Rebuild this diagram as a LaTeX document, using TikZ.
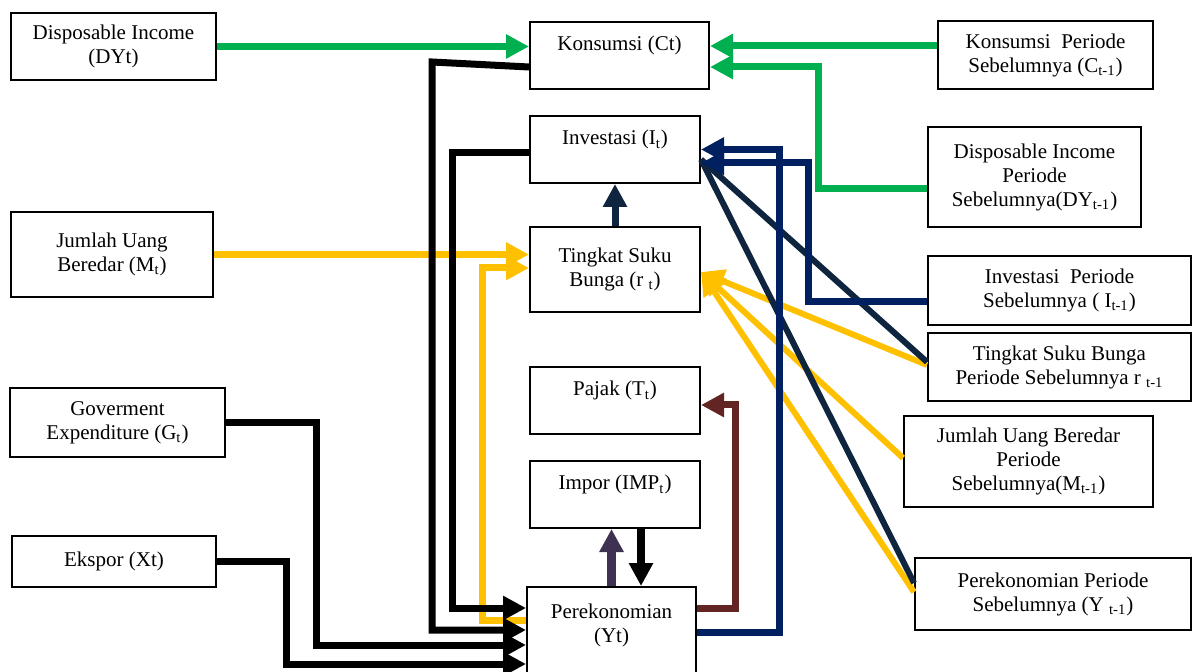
\documentclass[tikz,border=0pt]{standalone}
\usepackage{fontspec}
\setmainfont{Liberation Serif}
\usetikzlibrary{arrows.meta}
\definecolor{kgreen}{RGB}{0,176,80}
\definecolor{kyellow}{RGB}{255,192,0}
\definecolor{knavy}{RGB}{0,32,96}
\definecolor{kslate}{RGB}{15,36,62}
\definecolor{kbrown}{RGB}{99,37,35}
\definecolor{kpurple}{RGB}{63,49,81}

\tikzset{
  box/.style 2 args={draw, line width=1pt, inner sep=0pt, align=center,
    minimum width=#1*0.5pt, minimum height=#2*0.5pt,
    font=\fontsize{10.5}{12}\selectfont},
  link/.style={line width=3.5pt},
  diag/.style={line width=3pt},
  arr/.style={-{Triangle[length=11.5pt,width=11.5pt]}},
}

\begin{document}
\begin{tikzpicture}[x=0.5pt,y=-0.5pt]
\useasboundingbox (0,0) rectangle (1197,672);
\clip (0,0) rectangle (1197,672);

% left column
\node[box={205}{67}] (DY) at (113.5,46.5) {Disposable Income\\(DYt)};
\node[box={202}{85}] (M) at (112,254.5) {Jumlah Uang\\Beredar (M\textsubscript{t})};
\node[box={215}{69}] (G) at (117.5,422.5) {Goverment\\Expenditure (G\textsubscript{t})};
\node[box={204}{51}] (X) at (114,561.5) {Ekspor (Xt)};

% middle column
\node[box={179}{67}] (C) at (619.5,55.5) {Konsumsi (Ct)\\\mbox{}};
\node[box={170}{67}] (I) at (615,149.5) {Investasi (I\textsubscript{t})\\\mbox{}};
\node[box={170}{85}] (r) at (615,269.5) {Tingkat Suku\\Bunga (r \textsubscript{t})};
\node[box={170}{67}] (T) at (615,400.5) {Pajak (T\textsubscript{t})\\\mbox{}};
\node[box={170}{67}] (IMP) at (615,494.5) {Impor (IMP\textsubscript{t})\\\mbox{}};
\node[box={169}{96}] (Y) at (611.5,635) {Perekonomian\\(Yt)\\\mbox{}};

% right column
\node[box={215}{68}] (C1) at (1045.5,55) {Konsumsi~ Periode\\Sebelumnya (C\textsubscript{t-1})};
\node[box={213}{100}] (DY1) at (1034.5,177) {Disposable Income\\Periode\\Sebelumnya(DY\textsubscript{t-1})};
\node[box={263}{69}] (I1) at (1059.5,290.5) {Investasi~ Periode\\Sebelumnya ( I\textsubscript{t-1})};
\node[box={263}{68}] (r1) at (1059.5,367) {Tingkat Suku Bunga\\Periode Sebelumnya r \textsubscript{t-1}};
\node[box={249}{91}] (M1) at (1028.5,461.5) {Jumlah Uang Beredar\\Periode\\Sebelumnya(M\textsubscript{t-1})};
\node[box={276}{72}] (Y1) at (1053,594) {Perekonomian Periode\\Sebelumnya (Y \textsubscript{t-1})};

% yellow
\draw[diag,kyellow,arr] ([yshift=1pt]r1.west) -- ([yshift=-1.25pt]r.east);
\draw[diag,kyellow,arr] ([yshift=1.75pt]M1.west) -- ([yshift=-1.25pt]r.east);
\draw[diag,kyellow,arr] ([yshift=1pt]Y1.west) -- ([yshift=-1.25pt]r.east);
\draw[link,kyellow,arr] (M.east) -- (M.east -| r.west);
\draw[link,kyellow,arr] ([yshift=7.5pt]Y.west) -- ++(-44,0) |- ([yshift=0.75pt]r.west);

% slate
\draw[diag,kslate] ([yshift=2.5pt]r1.west) -- ([yshift=-5pt]I.east);
\draw[diag,kslate] ([yshift=5.5pt]Y1.west) -- ([yshift=-5pt]I.east);
\draw[link,kslate,arr] (r.north) -- (I.south);

% navy
\draw[link,knavy,arr] ([yshift=1.5pt]Y.east) -- ++(82.5,0) |- (I.east);
\draw[link,knavy,arr] ([yshift=-5.75pt]I1.west) -- ++(-118.5,0) |- ([yshift=-6.75pt]I.east);

% green
\draw[link,kgreen,arr] (DY.east) -- (DY.east -| C.west);
\draw[link,kgreen,arr] ([yshift=4.5pt]C1.west) -- ([yshift=4.5pt]C1.west -| C.east);
\draw[link,kgreen,arr] ([yshift=-6pt]DY1.west) -- ++(-109,0) |- ([yshift=-5.75pt]C.east);

% black
\draw[link,arr] ([yshift=-5.75pt]C.west) -- ++(-97,-5) |- ([yshift=2.5pt]Y.west);
\draw[link,arr] ([yshift=-1.75pt]I.west) -- ++(-77,0) |- ([yshift=13.5pt]Y.west);
\draw[link,arr] (G.east) -- ++(90.5,0) |- ([yshift=-5pt]Y.west);
\draw[link,arr] (X.east) -- ++(69,0) |- ([yshift=-14.5pt]Y.west);
\draw[line width=4pt,arr] ([xshift=13pt]IMP.south) -- ([xshift=13pt]IMP.south |- Y.north);

% brown, purple
\draw[link,kbrown,arr] ([yshift=13.5pt]Y.east) -- ++(38,0) |- ([yshift=-2.25pt]T.east);
\draw[line width=4.5pt,kpurple,arr] (Y.north) -- (Y.north |- IMP.south);
\end{tikzpicture}
\end{document}
